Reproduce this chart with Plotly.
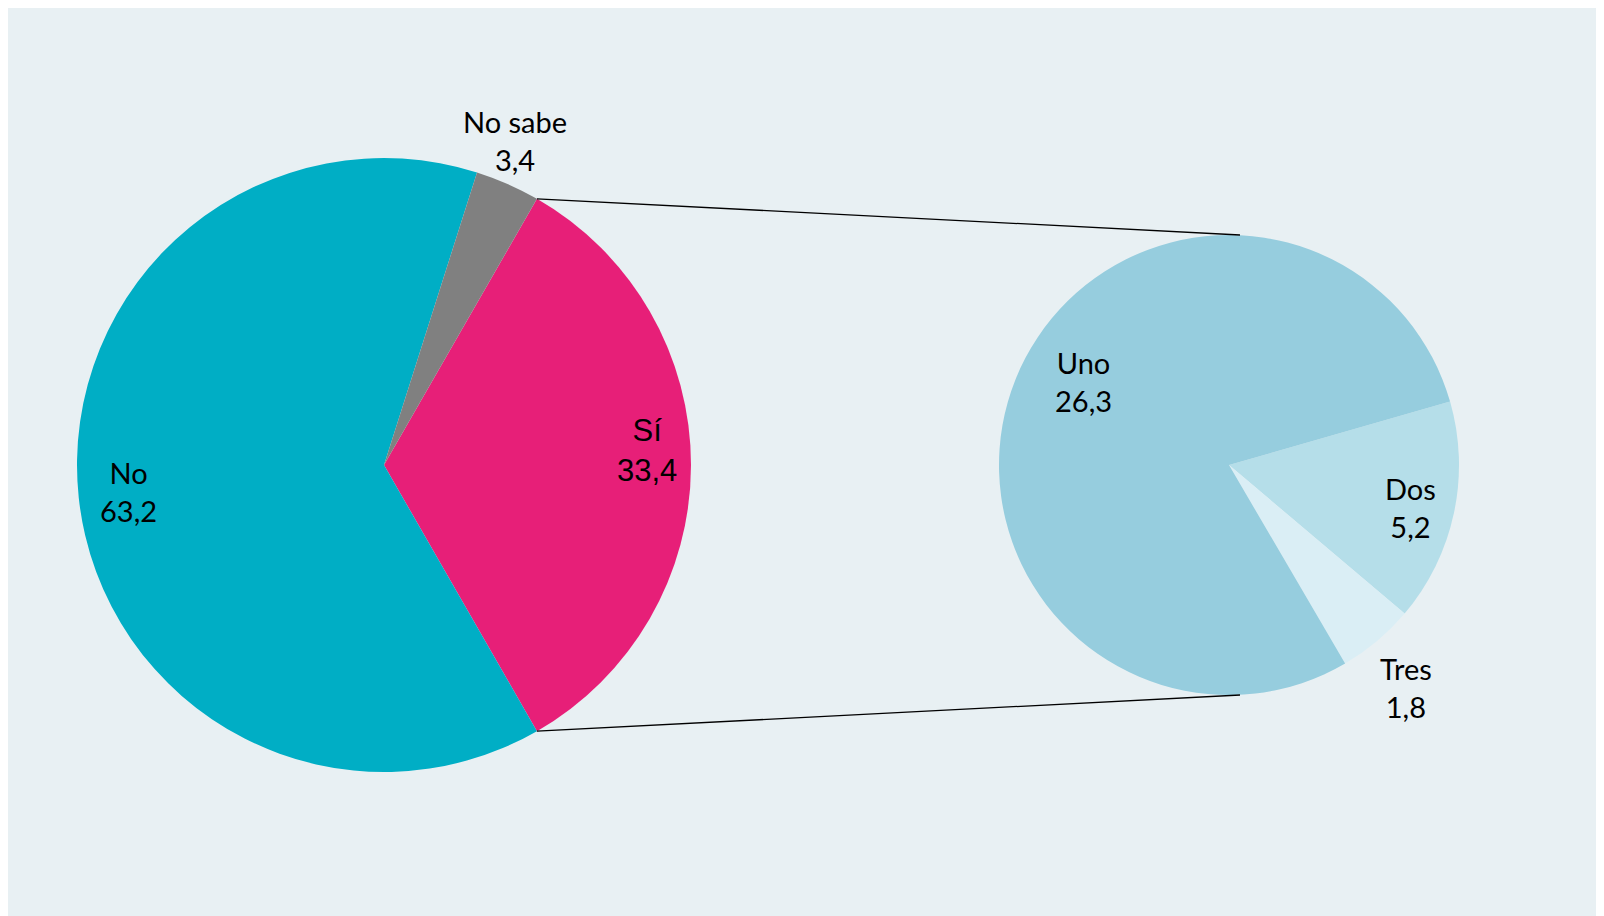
import numpy as np
import plotly.graph_objects as go

# ---- data ----
main_labels = ["Sí", "No", "No sabe"]
main_values = [33.4, 63.2, 3.4]
main_colors = ["#E71F78", "#00AEC5", "#808080"]

sub_labels = ["Dos", "Tres", "Uno"]
sub_values = [5.2, 1.8, 26.3]
sub_colors = ["#B5DEE9", "#DAEEF5", "#96CDDE"]

W, H = 1596, 908
BG = "#E8F0F3"
OFF = 8  # page body margin

# geometry (page pixels -> figure pixels)
cx1, cy1, r1 = 384 - OFF, 465 - OFF, 307
cx2, cy2, r2 = 1229 - OFF, 465 - OFF, 230


def dom(cx, cy, r):
    return dict(x=[(cx - r) / W, (cx + r) / W], y=[1 - (cy + r) / H, 1 - (cy - r) / H])


si_frac = main_values[0] / sum(main_values)
half_si = 360 * si_frac / 2
rot_left = 90 - half_si  # Sí centred at 3 o'clock

dos_start_math = 16
rot_right = 90 - dos_start_math

fig = go.Figure()
fig.add_trace(go.Pie(
    labels=main_labels, values=main_values, sort=False, direction="clockwise",
    rotation=rot_left, marker=dict(colors=main_colors, line=dict(width=0)),
    textinfo="none", domain=dom(cx1, cy1, r1), showlegend=False,
))
fig.add_trace(go.Pie(
    labels=sub_labels, values=sub_values, sort=False, direction="clockwise",
    rotation=rot_right, marker=dict(colors=sub_colors, line=dict(width=0)),
    textinfo="none", domain=dom(cx2, cy2, r2), showlegend=False,
))

shapes = []
h = np.deg2rad(half_si)
for sgn in (1, -1):
    x0 = cx1 + r1 * np.cos(h)
    y0 = cy1 - sgn * r1 * np.sin(h)
    x1 = cx2 + 11
    y1 = cy2 - sgn * r2
    shapes.append(dict(type="line", xref="paper", yref="paper",
                       x0=x0 / W, y0=1 - y0 / H, x1=x1 / W, y1=1 - y1 / H,
                       line=dict(color="black", width=1.3)))


def fmt(v):
    return f"{v:.1f}".replace(".", ",")


label_pos = {
    "No": (128, 491), "No sabe": (515, 141), "Sí": (647, 450),
    "Uno": (1083, 381), "Dos": (1410, 507), "Tres": (1406, 687),
}
annotations = []
for labs, vals in ((main_labels, main_values), (sub_labels, sub_values)):
    for lab, val in zip(labs, vals):
        px, py = label_pos[lab]
        px -= OFF
        py -= OFF
        font = dict(family="Lato, Calibri, sans-serif", size=29, color="black")
        if lab == "Sí":
            font = dict(family="Liberation Sans, Arial, sans-serif", size=31, color="black")
        annotations.append(dict(
            x=px / W, y=1 - py / H, xref="paper", yref="paper",
            text=f"{lab}<br>{fmt(val)}", showarrow=False, font=font,
            xanchor="center", yanchor="middle", align="center",
        ))

fig.update_layout(
    width=W, height=H, margin=dict(l=0, r=0, t=0, b=0),
    paper_bgcolor=BG, plot_bgcolor=BG,
    shapes=shapes, annotations=annotations,
)
fig.write_html("out.html")
